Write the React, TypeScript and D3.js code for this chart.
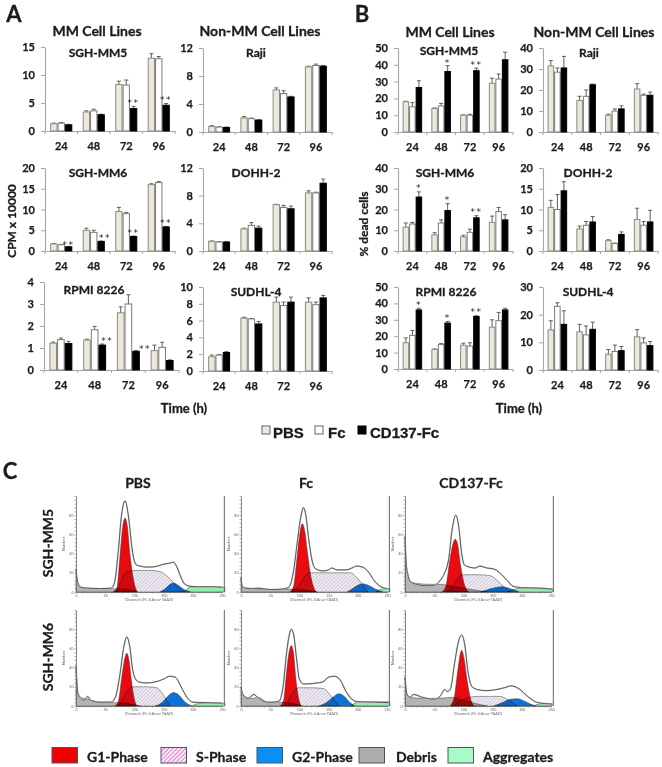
import { useEffect, useRef } from 'react'
import * as d3 from 'd3'

type Pt = number[]

const HOURS = ['24', '48', '72', '96']
const TREATMENTS = ['PBS', 'Fc', 'CD137-Fc']
const BAR_FILL = ['#ece9dc', '#ffffff', '#000000']
const BAR_STROKE = ['#8a8a80', '#7a7a7a', '#000000']

// values / errors per panel, one row per treatment (PBS, Fc, CD137-Fc)
const A_MM5_VALUES = [[1.3, 3.4, 8.3, 13.0], [1.4, 3.6, 8.2, 12.9], [1.1, 2.9, 4.0, 4.6]]
const A_MM5_ERRORS = [[0.1, 0.2, 0.6, 0.8], [0.1, 0.3, 0.9, 0.4], [0.1, 0.1, 0.4, 0.3]]
const A_RAJI_VALUES = [[0.8, 2.0, 6.0, 9.3], [0.7, 1.9, 5.5, 9.5], [0.65, 1.7, 5.0, 9.4]]
const A_RAJI_ERRORS = [[0.1, 0.2, 0.3, 0.1], [0.05, 0.1, 0.4, 0.2], [0.05, 0.05, 0.1, 0.1]]
const A_MM6_VALUES = [[1.7, 5.0, 9.5, 16.0], [1.5, 4.5, 9.0, 16.5], [1.0, 2.3, 3.5, 5.8]]
const A_MM6_ERRORS = [[0.1, 0.5, 1.0, 0.2], [0.1, 0.5, 0.3, 0.2], [0.1, 0.1, 0.1, 0.1]]
const A_DOHH_VALUES = [[1.4, 3.2, 6.7, 8.4], [1.3, 3.7, 6.3, 8.4], [1.3, 3.3, 6.1, 9.8]]
const A_DOHH_ERRORS = [[0.05, 0.1, 0.05, 0.3], [0.05, 0.4, 0.3, 0.1], [0.05, 0.3, 0.4, 0.6]]
const A_RPMI_VALUES = [[1.22, 1.36, 2.6, 0.88], [1.38, 1.83, 3.0, 1.03], [1.2, 1.13, 0.85, 0.43]]
const A_RPMI_ERRORS = [[0.05, 0.04, 0.27, 0.25], [0.07, 0.15, 0.42, 0.23], [0.1, 0.05, 0.03, 0.03]]
const A_SUDHL_VALUES = [[1.7, 6.3, 8.2, 8.2], [1.9, 6.2, 7.8, 7.9], [2.2, 5.6, 8.2, 8.7]]
const A_SUDHL_ERRORS = [[0.2, 0.1, 0.6, 0.5], [0.05, 0.05, 0.4, 0.3], [0.1, 0.3, 0.6, 0.3]]

const B_MM5_VALUES = [[18, 14, 10, 29], [15, 15.5, 10, 31.5], [26.5, 36, 36.5, 43]]
const B_MM5_ERRORS = [[0.3, 0.3, 0.2, 3], [2.5, 1.5, 0.5, 3], [4, 3.5, 1.5, 4.5]]
const B_RAJI_VALUES = [[31.5, 15, 8, 20.5], [28.5, 17, 10, 17.5], [30.5, 22.5, 11, 17.5]]
const B_RAJI_ERRORS = [[2.5, 2, 0.5, 2.5], [2, 3, 1, 0.5], [5.5, 0.3, 1.5, 1.5]]
const B_MM6_VALUES = [[11.5, 7.8, 6.8, 13.8], [13, 13.5, 9, 19], [26, 19.5, 16, 15]]
const B_MM6_ERRORS = [[2, 1, 0.8, 3], [0.8, 1.5, 1.5, 2], [2.5, 3.3, 1, 2.5]]
const B_DOHH_VALUES = [[10.5, 5.3, 2.5, 7.6], [10, 6.2, 1.8, 6.2], [14.5, 7, 4, 7]]
const B_DOHH_ERRORS = [[1.7, 0.7, 0.2, 2.7], [3.6, 0.9, 0.1, 0.9], [2.2, 1.3, 0.6, 2.8]]
const B_RPMI_VALUES = [[16, 12, 14.5, 25.5], [20.5, 15, 14, 29.5], [36, 28, 32, 36]]
const B_RPMI_ERRORS = [[3, 0.2, 1.2, 4.5], [3, 0.5, 2, 5], [1, 1, 0.5, 1]]
const B_SUDHL_VALUES = [[14.5, 13.8, 5.7, 12], [23, 12.7, 6.7, 9.8], [16.5, 14.7, 7, 8.8]]
const B_SUDHL_ERRORS = [[3.3, 2.7, 1.7, 2.6], [1.3, 3.2, 2.3, 1.8], [4.9, 2.6, 1.5, 1.5]]

// flow histograms as [channel, count]
const PBS_MM5_TOTAL = [[0, 24], [3, 10], [8, 5], [20, 4], [40, 3.5], [60, 4], [66, 10], [72, 40], [78, 80], [84, 95], [90, 78], [96, 45], [100, 32], [104, 28], [110, 27], [120, 26], [130, 26], [140, 27], [150, 29], [160, 30], [167, 31], [172, 27], [178, 18], [185, 9], [195, 6], [210, 5.5], [230, 5.5], [250, 5]]
const PBS_MM5_G1 = [[64, 0], [70, 4], [75, 35], [80, 68], [84, 77], [88, 68], [92, 42], [97, 18], [101, 6], [105, 0]]
const PBS_MM5_S = [[64, 0], [70, 3], [78, 12], [85, 20], [95, 22], [110, 22.5], [130, 22.5], [145, 21], [155, 17], [165, 11], [175, 4], [185, 0]]
const PBS_MM5_G2 = [[144, 0], [152, 3], [160, 7.5], [167, 9.3], [175, 7], [185, 2.5], [196, 0]]
const PBS_MM5_DEBRIS = [[0, 24], [2, 10], [6, 5], [15, 4], [40, 3.5], [60, 3.5], [80, 3], [95, 1.5], [105, 0]]
const PBS_MM5_AGG = [[185, 0], [190, 3], [195, 5], [210, 5.5], [230, 5.5], [255, 5]]

const FC_MM5_TOTAL = [[0, 15], [2, 6], [8, 4], [20, 3.5], [30, 4], [50, 2.5], [70, 3], [82, 5], [90, 22], [97, 55], [103, 80], [107, 88], [111, 80], [116, 55], [122, 32], [128, 24], [140, 22], [150, 23], [155, 25], [165, 23], [180, 23], [190, 25], [198, 27], [208, 26], [218, 21], [228, 12], [238, 6], [250, 3.5]]
const FC_MM5_G1 = [[84, 0], [90, 6], [95, 30], [100, 58], [105, 71], [109, 64], [114, 40], [120, 15], [125, 4], [129, 0]]
const FC_MM5_S = [[87, 0], [95, 4], [105, 12], [112, 18], [119, 20], [150, 20], [188, 20], [198, 15], [208, 8], [217, 0]]
const FC_MM5_G2 = [[182, 0], [190, 3], [200, 7], [208, 8.6], [218, 7], [230, 3], [243, 0]]
const FC_MM5_DEBRIS = [[0, 15], [2, 5], [10, 4], [30, 3], [60, 2.5], [80, 3], [110, 2], [130, 0]]
const FC_MM5_AGG = [[231, 0], [238, 2.5], [245, 3.5], [255, 3.5]]

const CD_MM5_TOTAL = [[0, 58], [2, 30], [5, 18], [10, 10], [20, 8], [35, 6.5], [50, 7], [60, 12], [68, 20], [75, 35], [80, 62], [87, 80], [92, 68], [97, 40], [102, 28], [110, 26], [120, 25], [128, 27], [140, 25], [152, 24], [162, 20], [175, 12], [185, 6], [200, 4.5], [230, 4], [252, 3]]
const CD_MM5_G1 = [[63, 0], [70, 6], [76, 30], [82, 50], [86, 55], [90, 50], [95, 28], [101, 9], [109, 0]]
const CD_MM5_S = [[71, 0], [80, 5], [90, 14], [100, 18], [125, 18], [146, 17], [158, 12], [170, 5], [180, 0]]
const CD_MM5_G2 = [[129, 0], [145, 3], [158, 5], [166, 5.5], [178, 4], [195, 0]]
const CD_MM5_DEBRIS = [[0, 58], [2, 30], [5, 18], [10, 11], [20, 9], [40, 8], [60, 8], [80, 6], [100, 4], [120, 2], [140, 0]]
const CD_MM5_AGG = [[175, 0], [185, 2.5], [200, 4], [230, 4], [254, 3]]

const PBS_MM6_TOTAL = [[0, 42], [3, 14], [8, 8], [15, 6], [20, 10], [25, 6], [40, 4], [60, 4], [68, 10], [75, 32], [82, 62], [87, 72], [92, 62], [97, 38], [102, 28], [108, 25], [120, 24], [135, 25], [150, 28], [160, 31], [170, 30], [180, 20], [190, 9], [200, 4], [220, 3.5], [250, 3]]
const PBS_MM6_G1 = [[67, 0], [73, 6], [78, 28], [83, 48], [87, 55], [91, 47], [95, 26], [100, 7], [104, 0]]
const PBS_MM6_S = [[72, 0], [80, 7], [88, 16], [98, 20], [120, 20], [138, 19], [148, 13], [155, 6], [161, 0]]
const PBS_MM6_G2 = [[136, 0], [146, 3], [157, 10], [167, 14], [175, 12], [187, 4], [199, 0]]
const PBS_MM6_DEBRIS = [[0, 42], [3, 15], [8, 9], [20, 7], [40, 4], [65, 3.5], [85, 3], [100, 1], [110, 0]]
const PBS_MM6_AGG = [[199, 0], [205, 2], [215, 3], [255, 3]]

const FC_MM6_TOTAL = [[0, 20], [3, 12], [12, 8], [22, 12], [30, 8], [45, 4], [55, 4], [65, 5], [72, 20], [78, 55], [83, 75], [86, 80], [90, 75], [95, 50], [100, 28], [107, 23], [115, 23], [130, 24], [140, 25], [150, 30], [160, 31], [170, 27], [180, 15], [190, 7], [200, 4.5], [230, 4], [252, 3.5]]
const FC_MM6_G1 = [[67, 0], [73, 6], [78, 35], [83, 58], [86, 63], [90, 55], [94, 28], [99, 7], [103, 0]]
const FC_MM6_S = [[76, 0], [82, 7], [90, 15], [99, 19], [120, 19], [142, 18], [152, 12], [160, 6], [168, 0]]
const FC_MM6_G2 = [[133, 0], [145, 3], [157, 9], [168, 12.8], [177, 10], [186, 4], [195, 0]]
const FC_MM6_DEBRIS = [[0, 20], [3, 12], [10, 9], [20, 8], [30, 9], [45, 4], [65, 4], [85, 3], [105, 0]]
const FC_MM6_AGG = [[188, 0], [195, 3], [205, 4.5], [255, 4.5]]

const CD_MM6_TOTAL = [[0, 30], [3, 13], [8, 9], [15, 12], [30, 9], [50, 7], [60, 10], [68, 17], [73, 15], [78, 18], [85, 45], [92, 68], [97, 74], [102, 65], [108, 35], [115, 20], [125, 17], [140, 16], [155, 17], [170, 19], [182, 21], [195, 18], [210, 10], [225, 4], [240, 2.5], [252, 2]]
const CD_MM6_G1 = [[77, 0], [84, 8], [90, 35], [94, 52], [97, 58], [101, 50], [106, 28], [112, 8], [118, 0]]
const CD_MM6_S = [[83, 0], [95, 5], [110, 9], [125, 10], [163, 10], [175, 7], [185, 3], [192, 0]]
const CD_MM6_G2 = [[152, 0], [165, 3], [180, 7], [192, 7.6], [205, 5], [215, 2], [224, 0]]
const CD_MM6_DEBRIS = [[0, 30], [3, 13], [10, 9], [30, 8], [60, 8], [80, 9], [100, 6], [125, 2], [140, 0]]
const CD_MM6_AGG = [[221, 0], [228, 2], [238, 2.5], [252, 2.5]]

const LEGEND_PHASES = ['G1-Phase', 'S-Phase', 'G2-Phase', 'Debris', 'Aggregates']

// bar panel layout; stars are [hour index, text, dx, dy]
const BAR_PANELS = [
  { title: 'SGH-MM5', tx: 98, ty: 52, x0: 45, x1: 175, top: 47, bot: 131, max: 15, ticks: [0, 5, 10, 15], v: A_MM5_VALUES, e: A_MM5_ERRORS, stars: [[2, '**', 0, 0], [3, '**', 0, 0]] },
  { title: 'Raji', tx: 256, ty: 52, x0: 203, x1: 332, top: 48, bot: 132, max: 12, ticks: [0, 4, 8, 12], v: A_RAJI_VALUES, e: A_RAJI_ERRORS, stars: [] },
  { title: 'SGH-MM6', tx: 98, ty: 172, x0: 45, x1: 175, top: 168, bot: 251, max: 20, ticks: [0, 5, 10, 15, 20], v: A_MM6_VALUES, e: A_MM6_ERRORS, stars: [[0, '**', 0, 2], [1, '**', 4, 0], [2, '**', 0, 0], [3, '**', 0, 0]] },
  { title: 'DOHH-2', tx: 256, ty: 172, x0: 203, x1: 332, top: 168, bot: 251, max: 12, ticks: [0, 4, 8, 12], v: A_DOHH_VALUES, e: A_DOHH_ERRORS, stars: [] },
  { title: 'RPMI 8226', tx: 94, ty: 289, x0: 44, x1: 179, top: 282, bot: 370, max: 4, ticks: [0, 1, 2, 3, 4], v: A_RPMI_VALUES, e: A_RPMI_ERRORS, stars: [[1, '**', 5, 0], [2, '**', 9, 2]] },
  { title: 'SUDHL-4', tx: 256, ty: 291, x0: 203, x1: 332, top: 287, bot: 371, max: 10, ticks: [0, 2, 4, 6, 8, 10], v: A_SUDHL_VALUES, e: A_SUDHL_ERRORS, stars: [] },
  { title: 'SGH-MM5', tx: 449, ty: 50.5, x0: 398, x1: 513, top: 48, bot: 132, max: 50, ticks: [0, 10, 20, 30, 40, 50], v: B_MM5_VALUES, e: B_MM5_ERRORS, stars: [[1, '*', 0, 1], [2, '**', 0, 0]] },
  { title: 'Raji', tx: 589, ty: 52, x0: 543, x1: 658, top: 48, bot: 132, max: 40, ticks: [0, 10, 20, 30, 40], v: B_RAJI_VALUES, e: B_RAJI_ERRORS, stars: [] },
  { title: 'SGH-MM6', tx: 445, ty: 172, x0: 398, x1: 513, top: 168, bot: 251, max: 40, ticks: [0, 10, 20, 30, 40], v: B_MM6_VALUES, e: B_MM6_ERRORS, stars: [[0, '*', 0, 0], [1, '*', 0, 0], [2, '**', 0, 0]] },
  { title: 'DOHH-2', tx: 588, ty: 172, x0: 543, x1: 658, top: 168, bot: 251, max: 20, ticks: [0, 5, 10, 15, 20], v: B_DOHH_VALUES, e: B_DOHH_ERRORS, stars: [] },
  { title: 'RPMI 8226', tx: 446, ty: 291, x0: 398, x1: 513, top: 287, bot: 369, max: 50, ticks: [0, 10, 20, 30, 40, 50], v: B_RPMI_VALUES, e: B_RPMI_ERRORS, stars: [[0, '*', 0, 0], [1, '*', 0, 0], [2, '**', 0, 0]] },
  { title: 'SUDHL-4', tx: 588, ty: 291, x0: 543, x1: 658, top: 287, bot: 370, max: 30, ticks: [0, 10, 20, 30], v: B_SUDHL_VALUES, e: B_SUDHL_ERRORS, stars: [] },
]

const FLOW_PANELS = [
  { x0: 76, bot: 592, total: PBS_MM5_TOTAL, g1: PBS_MM5_G1, s: PBS_MM5_S, g2: PBS_MM5_G2, debris: PBS_MM5_DEBRIS, agg: PBS_MM5_AGG },
  { x0: 241, bot: 592, total: FC_MM5_TOTAL, g1: FC_MM5_G1, s: FC_MM5_S, g2: FC_MM5_G2, debris: FC_MM5_DEBRIS, agg: FC_MM5_AGG },
  { x0: 405, bot: 592, total: CD_MM5_TOTAL, g1: CD_MM5_G1, s: CD_MM5_S, g2: CD_MM5_G2, debris: CD_MM5_DEBRIS, agg: CD_MM5_AGG },
  { x0: 76, bot: 706, total: PBS_MM6_TOTAL, g1: PBS_MM6_G1, s: PBS_MM6_S, g2: PBS_MM6_G2, debris: PBS_MM6_DEBRIS, agg: PBS_MM6_AGG },
  { x0: 241, bot: 706, total: FC_MM6_TOTAL, g1: FC_MM6_G1, s: FC_MM6_S, g2: FC_MM6_G2, debris: FC_MM6_DEBRIS, agg: FC_MM6_AGG },
  { x0: 405, bot: 706, total: CD_MM6_TOTAL, g1: CD_MM6_G1, s: CD_MM6_S, g2: CD_MM6_G2, debris: CD_MM6_DEBRIS, agg: CD_MM6_AGG },
]

const FONT = 'Lato, "Open Sans", sans-serif'
const INK = '#1c1c1c'
const AXIS = '#a6a6a6'

export default function App() {
  const svgRef = useRef<SVGSVGElement>(null)

  useEffect(() => {
    if (!svgRef.current) return
    const svg = d3.select(svgRef.current)
    svg.selectAll('*').remove()

    const defs = svg.append('defs')
    const hatch = defs.append('pattern').attr('id', 's-hatch').attr('width', 2.6).attr('height', 2.6)
      .attr('patternUnits', 'userSpaceOnUse').attr('patternTransform', 'rotate(45)')
    hatch.append('rect').attr('width', 2.6).attr('height', 2.6).attr('fill', '#eeebf2')
    hatch.append('line').attr('x1', 0).attr('x2', 0).attr('y1', 0).attr('y2', 2.6).attr('stroke', '#a89cb4').attr('stroke-width', 0.8)
    const hatchLegend = defs.append('pattern').attr('id', 's-hatch-legend').attr('width', 3).attr('height', 3)
      .attr('patternUnits', 'userSpaceOnUse').attr('patternTransform', 'rotate(45)')
    hatchLegend.append('rect').attr('width', 3).attr('height', 3).attr('fill', '#fbeaf7')
    hatchLegend.append('line').attr('x1', 0).attr('x2', 0).attr('y1', 0).attr('y2', 3).attr('stroke', '#c850b4').attr('stroke-width', 1.3)

    const label = (x: number, y: number, s: string, size: number, anchor = 'middle', family = FONT) =>
      svg.append('text').attr('x', x).attr('y', y).attr('text-anchor', anchor).attr('dominant-baseline', 'central')
        .attr('font-family', family).attr('font-weight', 700).attr('font-size', size).attr('fill', INK)
        .attr('stroke', INK).attr('stroke-width', 0.3).text(s)

    const rotated = (x: number, y: number, s: string, size: number) =>
      svg.append('text').attr('transform', `translate(${x},${y}) rotate(-90)`).attr('text-anchor', 'middle')
        .attr('dominant-baseline', 'central').attr('font-family', FONT).attr('font-weight', 700)
        .attr('font-size', size).attr('fill', INK).attr('stroke', INK).attr('stroke-width', 0.3).text(s)

    // Bar panels
    BAR_PANELS.forEach((p) => {
      const g = svg.append('g')
      const x = d3.scaleBand<string>().domain(HOURS).range([p.x0, p.x1]).paddingInner(0.32).paddingOuter(0.16)
      const inner = d3.scaleBand<string>().domain(TREATMENTS).range([0, x.bandwidth()])
      const y = d3.scaleLinear().domain([0, p.max]).range([p.bot, p.top])

      const xAxis = g.append('g').attr('transform', `translate(0,${p.bot})`)
        .call(d3.axisBottom(x).tickSize(0).tickPadding(11))
      const yAxis = g.append('g').attr('transform', `translate(${p.x0},0)`)
        .call(d3.axisLeft(y).tickValues(p.ticks).tickSize(4).tickSizeOuter(0).tickPadding(6).tickFormat(d3.format('d')))
      ;[xAxis, yAxis].forEach((ax) => {
        ax.select('.domain').attr('stroke', AXIS).attr('stroke-width', 1.1)
        ax.selectAll('.tick line').attr('stroke', AXIS)
        ax.selectAll('text').attr('font-family', FONT).attr('font-weight', 700).attr('font-size', 11)
          .attr('fill', INK).attr('stroke', INK).attr('stroke-width', 0.25)
      })
      // x ticks sit on the band edges
      d3.range(5).forEach((i) => {
        const tx = p.x0 + (i * (p.x1 - p.x0)) / 4
        g.append('line').attr('x1', tx).attr('x2', tx).attr('y1', p.bot).attr('y2', p.bot + 3).attr('stroke', AXIS)
      })

      TREATMENTS.forEach((t, ti) => {
        HOURS.forEach((h, hi) => {
          const val = p.v[ti][hi]
          const err = p.e[ti][hi]
          const bx = (x(h) as number) + (inner(t) as number)
          const w = inner.bandwidth()
          const cx = bx + w / 2
          g.append('line').attr('x1', cx).attr('x2', cx).attr('y1', y(val)).attr('y2', y(val + err)).attr('stroke', '#5e5e5e')
          g.append('line').attr('x1', cx - 2).attr('x2', cx + 2).attr('y1', y(val + err)).attr('y2', y(val + err)).attr('stroke', '#5e5e5e')
          g.append('rect').attr('x', bx + 0.5).attr('y', y(val)).attr('width', w - 1).attr('height', p.bot - y(val))
            .attr('fill', BAR_FILL[ti]).attr('stroke', BAR_STROKE[ti]).attr('stroke-width', 1)
        })
      })

      p.stars.forEach((s) => {
        const hi = s[0] as number
        const cx = (x(HOURS[hi]) as number) + (inner('CD137-Fc') as number) + inner.bandwidth() / 2 + (s[2] as number)
        g.append('text').attr('x', cx).attr('y', y(p.v[2][hi] + p.e[2][hi]) - 0.5 + (s[3] as number)).attr('text-anchor', 'middle')
          .attr('font-family', 'DejaVu Sans').attr('font-size', 9).attr('letter-spacing', 1.5).attr('fill', '#222').text(s[1] as string)
      })

      label(p.tx, p.ty, p.title, 12)
    })

    // Flow histograms
    FLOW_PANELS.forEach((p) => {
      const g = svg.append('g').style('isolation', 'isolate')
      const x = d3.scaleLinear().domain([0, 250]).range([p.x0, p.x0 + 146])
      const y = d3.scaleLinear().domain([0, 100]).range([p.bot, p.bot - 96])
      const area = d3.area<Pt>().x((d) => x(d[0])).y0(y(0)).y1((d) => y(d[1])).curve(d3.curveMonotoneX)
      const line = d3.line<Pt>().x((d) => x(d[0])).y((d) => y(d[1])).curve(d3.curveMonotoneX)

      const layer = (data: Pt[], fill: string) =>
        g.append('path').datum(data).attr('d', area).attr('fill', fill).attr('stroke', '#3c3c3c')
          .attr('stroke-width', 0.5).style('mix-blend-mode', 'multiply')
      layer(p.debris, '#b4b4b4')
      layer(p.agg, '#8eeeaa')
      layer(p.s, 'url(#s-hatch)')
      layer(p.g1, '#ea0a12')
      layer(p.g2, '#0d72d6')

      g.append('path').datum(p.total).attr('d', line).attr('fill', 'none').attr('stroke', '#d0d0d0').attr('stroke-width', 1.6)
      g.append('path').datum(p.total).attr('d', line).attr('fill', 'none').attr('stroke', '#4a4a4a').attr('stroke-width', 0.9)

      const xAxis = g.append('g').attr('transform', `translate(0,${p.bot})`)
        .call(d3.axisBottom(x).tickValues(d3.range(0, 251, 10)).tickSize(1.5).tickSizeOuter(0)
          .tickFormat((d) => ((d as number) % 50 === 0 ? String(d) : '')).tickPadding(1))
      const yAxis = g.append('g').attr('transform', `translate(${p.x0},0)`)
        .call(d3.axisLeft(y).tickValues(d3.range(0, 101, 4)).tickSize(1.5).tickSizeOuter(0)
          .tickFormat((d) => ((d as number) % 20 === 0 && d !== 100 ? String(d) : '')).tickPadding(1))
      ;[xAxis, yAxis].forEach((ax) => {
        ax.select('.domain').attr('stroke', '#666').attr('stroke-width', 0.8)
        ax.selectAll('.tick line').attr('stroke', '#777').attr('stroke-width', 0.6)
        ax.selectAll('text').attr('font-family', FONT).attr('font-size', 3.6).attr('fill', '#666')
      })
      g.append('line').attr('x1', x(254)).attr('x2', x(254)).attr('y1', p.bot).attr('y2', p.bot - 96).attr('stroke', '#666').attr('stroke-width', 1)
      g.append('text').attr('x', x(125)).attr('y', p.bot + 9).attr('text-anchor', 'middle').attr('font-family', FONT)
        .attr('font-size', 4).attr('fill', '#666').text('Channels (FL 4 Area-7AAD)')
      g.append('text').attr('transform', `translate(${p.x0 - 11},${y(50)}) rotate(-90)`).attr('text-anchor', 'middle')
        .attr('font-family', FONT).attr('font-size', 4).attr('fill', '#666').text('Number')
    })

    // Headings
    label(14, 13, 'A', 22)
    label(362, 13, 'B', 22)
    label(10, 470, 'C', 22)
    ;[[97, 30, 'MM Cell Lines'], [260, 30, 'Non-MM Cell Lines'], [450, 31, 'MM Cell Lines'], [594, 31, 'Non-MM Cell Lines']]
      .forEach((h) => label(h[0] as number, h[1] as number, h[2] as string, 14))
    rotated(11, 221, 'CPM x 10000', 12)
    rotated(363, 224, '% dead cells', 12)
    label(184, 408, 'Time (h)', 13)
    label(519, 408, 'Time (h)', 13)

    // Bar legend
    const barLegend = [[262, 273], [315, 328], [358, 370]]
    TREATMENTS.forEach((t, i) => {
      svg.append('rect').attr('x', barLegend[i][0]).attr('y', 426).attr('width', 8).attr('height', 8)
        .attr('fill', BAR_FILL[i]).attr('stroke', i === 2 ? '#000' : '#666')
      label(barLegend[i][1], 432, t, 15, 'start', '"Liberation Sans", Arial, sans-serif')
    })

    // Flow headers
    label(138, 482, 'PBS', 14)
    label(306, 482, 'Fc', 14)
    label(471, 482, 'CD137-Fc', 14)
    rotated(47, 543, 'SGH-MM5', 14)
    rotated(47, 657, 'SGH-MM6', 14)

    // Flow legend
    const legendX = [[52, 87], [161, 196], [257, 292], [359, 396], [448, 483]]
    const legendFill = ['#f00000', 'url(#s-hatch-legend)', '#0a90f5', '#adadad', '#a8fac8']
    LEGEND_PHASES.forEach((t, i) => {
      svg.append('rect').attr('x', legendX[i][0]).attr('y', 747.5).attr('width', 25.5).attr('height', 15.5)
        .attr('fill', legendFill[i]).attr('stroke', '#4a5560').attr('stroke-width', 1)
      label(legendX[i][1], 756, t, 14, 'start')
    })
  }, [])

  return (
    <svg ref={svgRef} width={662} height={767} viewBox="0 0 662 767"
      style={{ position: 'absolute', left: 0, top: 0, display: 'block', background: '#fff' }} />
  )
}
